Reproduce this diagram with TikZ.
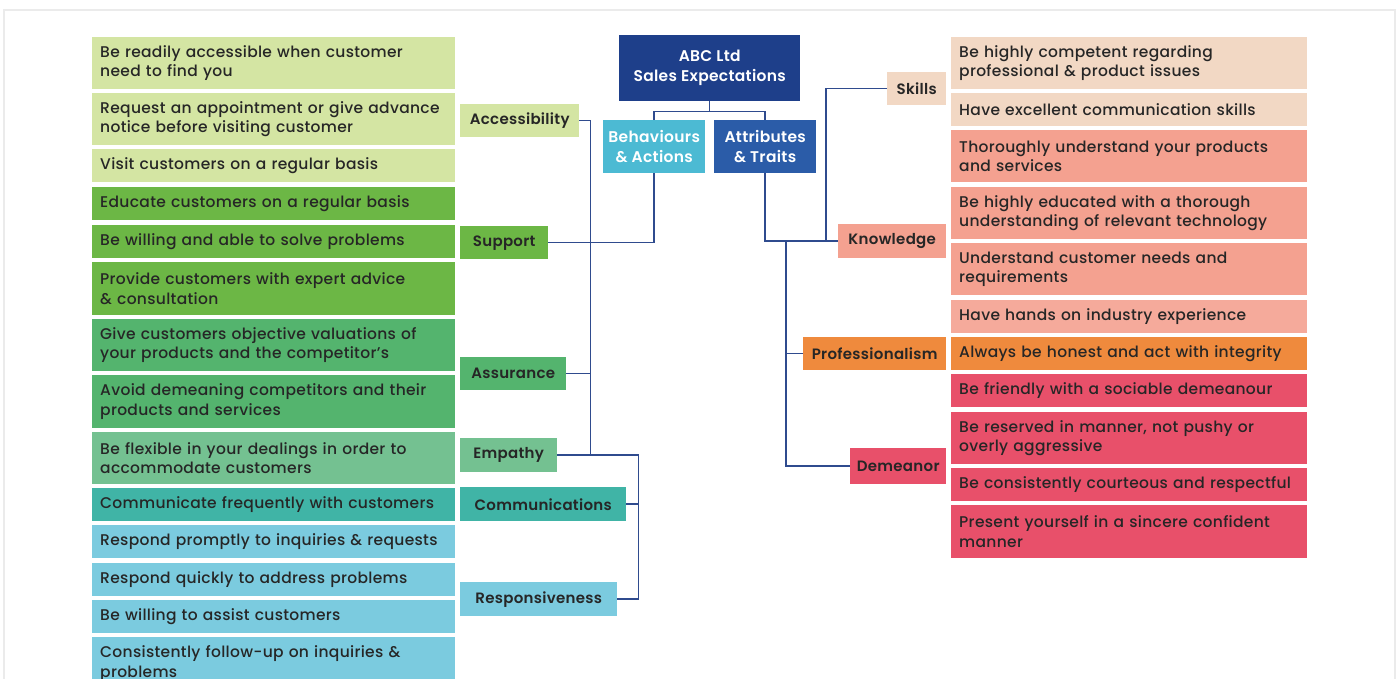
\documentclass[tikz,border=0pt]{standalone}
\usepackage{fontspec}
\setmainfont{Poppins}[UprightFont=* Medium, BoldFont=* SemiBold, LetterSpace=2]
\definecolor{cacc}{HTML}{D4E5A3}
\definecolor{csup}{HTML}{6CB745}
\definecolor{casr}{HTML}{54B46E}
\definecolor{cemp}{HTML}{74C191}
\definecolor{ccom}{HTML}{40B4A6}
\definecolor{crsp}{HTML}{7BCBDF}
\definecolor{cskl}{HTML}{F2D8C4}
\definecolor{cknw}{HTML}{F4A190}
\definecolor{cpro}{HTML}{EF8A3D}
\definecolor{cdem}{HTML}{E8506A}
\definecolor{ctitle}{HTML}{1E3F8A}
\definecolor{cbeh}{HTML}{4CBAD3}
\definecolor{catt}{HTML}{2B5CA8}
\definecolor{cline}{HTML}{2F4B8E}
\definecolor{ctext}{HTML}{262626}
\definecolor{cframe}{HTML}{EBEBEB}
\tikzset{
  litem/.style={anchor=north west, text width=347pt, inner xsep=8pt, inner ysep=0pt,
    align=left, text=ctext, font=\fontsize{15.5}{19.5}\selectfont},
  ritem/.style={anchor=north west, text width=340pt, inner xsep=8pt, inner ysep=0pt,
    align=left, text=ctext, font=\fontsize{15.5}{19.5}\selectfont},
  lbl/.style={anchor=north west, inner sep=0pt, align=center, text=ctext,
    font=\fontsize{15}{17}\selectfont\bfseries},
  hdr/.style={anchor=north west, inner sep=0pt, align=center, text=white,
    font=\fontsize{15.5}{20}\selectfont\bfseries},
  conn/.style={draw=cline, line width=1.5pt}
}
\begin{document}
\begin{tikzpicture}[x=1pt,y=-1pt]
\clip (0,0) rectangle (1399,679);
\fill[white] (0,0) rectangle (1399,679);
\draw[cframe, line width=1.2pt] (4,10) rectangle (1395,700);
% left items
\node[litem, fill=cacc, minimum height=52pt] (l1) at (92,37) {Be readily accessible when customer\\need to find you};
\node[litem, fill=cacc, minimum height=52pt] (l2) at (92,93) {Request an appointment or give advance\\notice before visiting customer};
\node[litem, fill=cacc, minimum height=33pt] (l3) at (92,149) {Visit customers on a regular basis};
\node[litem, fill=csup, minimum height=33pt] (l4) at (92,187) {Educate customers on a regular basis};
\node[litem, fill=csup, minimum height=33pt] (l5) at (92,225) {Be willing and able to solve problems};
\node[litem, fill=csup, minimum height=53pt] (l6) at (92,262) {Provide customers with expert advice\\\& consultation};
\node[litem, fill=casr, minimum height=52pt] (l7) at (92,319) {Give customers objective valuations of\\your products and the competitor’s};
\node[litem, fill=casr, minimum height=53pt] (l8) at (92,375) {Avoid demeaning competitors and their\\products and services};
\node[litem, fill=cemp, minimum height=52pt] (l9) at (92,432) {Be flexible in your dealings in order to\\accommodate customers};
\node[litem, fill=ccom, minimum height=33pt] (l10) at (92,488) {Communicate frequently with customers};
\node[litem, fill=crsp, minimum height=33pt] (l11) at (92,525) {Respond promptly to inquiries \& requests};
\node[litem, fill=crsp, minimum height=33pt] (l12) at (92,563) {Respond quickly to address problems};
\node[litem, fill=crsp, minimum height=33pt] (l13) at (92,600) {Be willing to assist customers};
\node[litem, fill=crsp, minimum height=53pt] (l14) at (92,637) {Consistently follow-up on inquiries \&\\problems};
% right items
\node[ritem, fill=cskl, minimum height=52pt] (r1) at (951,37) {Be highly competent regarding\\professional \& product issues};
\node[ritem, fill=cskl, minimum height=33pt] (r2) at (951,93) {Have excellent communication skills};
\node[ritem, fill=cknw, minimum height=52pt] (r3) at (951,130) {Thoroughly understand your products\\and services};
\node[ritem, fill=cknw, minimum height=52pt] (r4) at (951,187) {Be highly educated with a thorough\\understanding of relevant technology};
\node[ritem, fill=cknw, minimum height=52pt] (r5) at (951,243) {Understand customer needs and\\requirements};
\node[ritem, fill=cknw!90!white, minimum height=33pt] (r6) at (951,300) {Have hands on industry experience};
\node[ritem, fill=cpro, minimum height=33pt] (r7) at (951,337) {Always be honest and act with integrity};
\node[ritem, fill=cdem, minimum height=33pt] (r8) at (951,374) {Be friendly with a sociable demeanour};
\node[ritem, fill=cdem, minimum height=52pt] (r9) at (951,412) {Be reserved in manner, not pushy or\\overly aggressive};
\node[ritem, fill=cdem, minimum height=33pt] (r10) at (951,468) {Be consistently courteous and respectful};
\node[ritem, fill=cdem, minimum height=53pt] (r11) at (951,505) {Present yourself in a sincere confident\\manner};
% headers
\node[hdr, fill=ctitle, minimum width=181pt, minimum height=66pt] (title) at (619,35) {ABC Ltd\\Sales Expectations};
\node[hdr, fill=cbeh, minimum width=102pt, minimum height=53pt] (beh) at (603,120) {Behaviours\\\& Actions};
\node[hdr, fill=catt, minimum width=102pt, minimum height=53pt] (att) at (714,120) {Attributes\\\& Traits};
% left labels
\node[lbl, fill=cacc, minimum width=119pt, minimum height=33pt] (acc) at (460,104) {Accessibility};
\node[lbl, fill=csup, minimum width=88pt, minimum height=33pt] (sup) at (460,226) {Support};
\node[lbl, fill=casr, minimum width=106pt, minimum height=33pt] (asr) at (460,357) {Assurance};
\node[lbl, fill=cemp, minimum width=97pt, minimum height=34pt] (emp) at (460,438) {Empathy};
\node[lbl, fill=ccom, minimum width=166pt, minimum height=34pt] (com) at (460,487) {Communications};
\node[lbl, fill=crsp, minimum width=157pt, minimum height=34pt] (rsp) at (460,582) {Responsiveness};
% right labels
\node[lbl, fill=cskl, minimum width=59pt, minimum height=33pt] (skl) at (887,72) {Skills};
\node[lbl, fill=cknw, minimum width=108pt, minimum height=34pt] (knw) at (838,224) {Knowledge};
\node[lbl, fill=cpro, minimum width=143pt, minimum height=33pt] (pro) at (803,337) {Professionalism};
\node[lbl, fill=cdem, minimum width=96pt, minimum height=36pt] (dem) at (850,448) {Demeanor};
% connectors
\draw[conn] (title.south) -- ++(0,10) coordinate (tj);
\draw[conn] (beh.north) |- (tj) -| (att.north);
\draw[conn] (beh.south) |- (sup.east);
\draw[conn] (acc.east) -- ++(11,0) coordinate (t1) -- (t1 |- emp.east);
\draw[conn] (asr.east) -- (t1 |- asr.east);
\draw[conn] (emp.east) -- ++(81,0) coordinate (t2) -- (t2 |- rsp.east) -- (rsp.east);
\draw[conn] (com.east) -- (t2 |- com.east);
\draw[conn] (att.south) |- (knw.west);
\draw[conn] (skl.west) -- ++(-61,0) coordinate (s1) -- (s1 |- knw.west);
\path (knw.west) ++(-52,0) coordinate (k1);
\draw[conn] (k1) |- (dem.west);
\draw[conn] (pro.west) -- (k1 |- pro.west);
\end{tikzpicture}
\end{document}
